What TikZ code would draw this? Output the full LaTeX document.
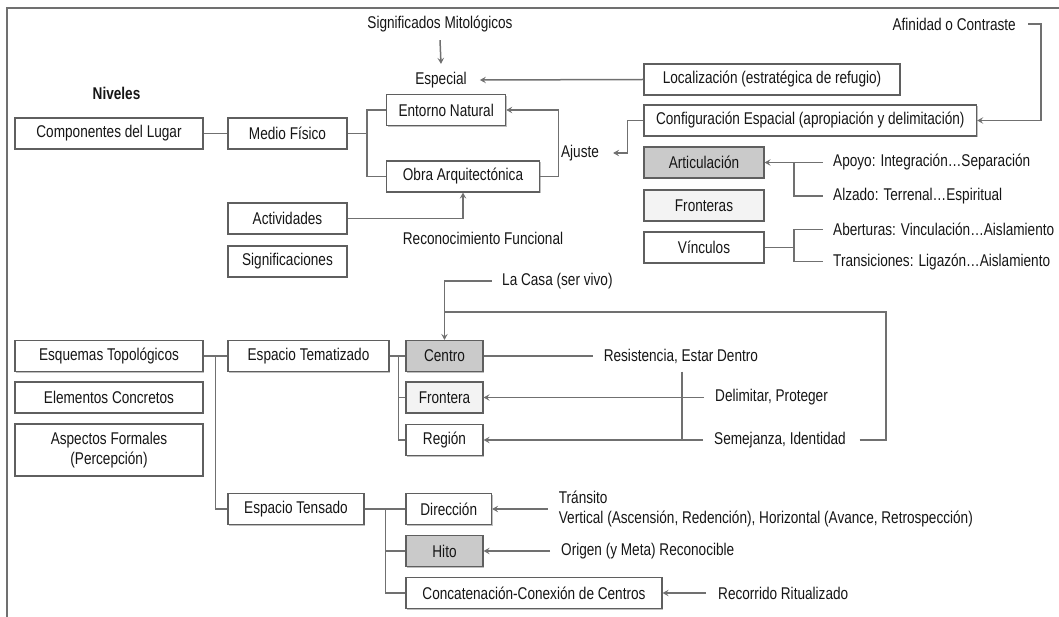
\documentclass[tikz,border=0pt]{standalone}
\usepackage{fontspec}
\setmainfont[FakeStretch=0.8]{Liberation Sans}
\usetikzlibrary{arrows.meta,shadows}
\definecolor{linegray}{RGB}{112,112,112}
\definecolor{boxborder}{RGB}{95,95,95}
\definecolor{boxdark}{RGB}{202,202,202}
\definecolor{boxlight}{RGB}{243,243,243}
\definecolor{txt}{RGB}{22,22,22}
\tikzset{
  box/.style={draw=boxborder, line width=1.2pt, fill=white, minimum height=31pt, inner sep=0pt, align=center, text=txt,
    drop shadow={shadow xshift=1.2pt, shadow yshift=-1.4pt, opacity=0.25, fill=black}},
  darkbox/.style={box, fill=boxdark},
  lightbox/.style={box, fill=boxlight},
  lbl/.style={inner sep=0pt, text=txt},
  conn/.style={draw=linegray, line width=1.5pt},
  arr/.style={conn, -{Stealth[length=6pt, width=6.5pt, inset=2.4pt]}},
}
\begin{document}
\begin{tikzpicture}[x=1pt, y=-1pt, font=\fontsize{17}{20}\selectfont]
\useasboundingbox (0,0) rectangle (1059,617);
\draw[draw=linegray, line width=1.5pt] (7,617) -- (7,8) -- (1059,8);

% upper boxes
\node[box, minimum width=188pt] (comp) at (109,133.5) {Componentes del Lugar};
\node[box, minimum width=119pt] (medio) at (287.5,133.5) {Medio Físico};
\node[box, minimum width=119pt] (entorno) at (446.2,110) {Entorno Natural};
\node[box, minimum width=152.6pt] (obra) at (463,176.5) {Obra Arquitectónica};
\node[box, minimum width=119pt] (activ) at (287.5,218.5) {Actividades};
\node[box, minimum width=119pt] (signif) at (287.5,261.5) {Significaciones};
\node[box, minimum width=256pt] (local) at (772,79.5) {Localización (estratégica de refugio)};
\node[box, minimum width=332.6pt] (config) at (810.3,120.5) {Configuración Espacial (apropiación y delimitación)};
\node[darkbox, minimum width=120pt] (artic) at (704,162.5) {Articulación};
\node[lightbox, minimum width=120pt] (fronteras) at (704,205.5) {Fronteras};
\node[box, minimum width=120pt] (vinculos) at (704,247.5) {Vínculos};

% lower boxes
\node[box, minimum width=188pt] (esquemas) at (109,356) {Esquemas Topológicos};
\node[box, minimum width=188pt] (elementos) at (109,397.5) {Elementos Concretos};
\node[box, minimum width=188pt, minimum height=52pt] (aspectos) at (109,450) {Aspectos Formales\\(Percepción)};
\node[box, minimum width=161pt] (tematizado) at (308.5,356) {Espacio Tematizado};
\node[box, minimum width=136pt] (tensado) at (296,509) {Espacio Tensado};
\node[darkbox, minimum width=77pt] (centro) at (444.5,356) {Centro};
\node[lightbox, minimum width=77pt] (frontera) at (444.5,397.5) {Frontera};
\node[box, minimum width=77pt] (region) at (444.5,440) {Región};
\node[box, minimum width=85.5pt] (direccion) at (448.75,509) {Dirección};
\node[darkbox, minimum width=77pt] (hito) at (444.5,551) {Hito};
\node[box, minimum width=256pt] (concat) at (534,593) {Concatenación-Conexión de Centros};

% labels
\node[lbl] (sigmit) at (440,24) {Significados Mitológicos};
\node[lbl] (especial) at (441,80) {Especial};
\node[lbl, font=\fontsize{17}{20}\selectfont\bfseries] (niveles) at (116.5,93) {Niveles};
\node[lbl] (reconoc) at (483,238) {Reconocimiento Funcional};
\node[lbl, anchor=west] (lacasa) at (502,281) {La Casa (ser vivo)};
\node[lbl, anchor=east] (afinidad) at (1016,24) {Afinidad o Contraste};
\node[lbl] (ajuste) at (580,153) {Ajuste};
\node[lbl, anchor=west] (apoyo) at (833,162.5) {Apoyo: Integración…Separación};
\node[lbl, anchor=west] (alzado) at (833,196) {Alzado: Terrenal…Espiritual};
\node[lbl, anchor=west] (aberturas) at (833,229.3) {Aberturas: Vinculación…Aislamiento};
\node[lbl, anchor=west] (transic) at (833,261.7) {Transiciones: Ligazón…Aislamiento};
\node[lbl, anchor=west] (resist) at (603.6,356) {Resistencia, Estar Dentro};
\node[lbl, anchor=west] (delim) at (715,397.5) {Delimitar, Proteger};
\node[lbl, anchor=west] (semej) at (714,440) {Semejanza, Identidad};
\node[lbl, anchor=west, align=left] (transito) at (558.7,509) {Tránsito\\Vertical (Ascensión, Redención), Horizontal (Avance, Retrospección)};
\node[lbl, anchor=west] (origen) at (561,551) {Origen (y Meta) Reconocible};
\node[lbl, anchor=west] (recorrido) at (718,593) {Recorrido Ritualizado};

% connectors, upper part
\draw[arr] ([yshift=-8pt]sigmit.south) -- ([yshift=8pt]especial.north);
\draw[arr] (local.west) -- ([xshift=13pt]especial.east);
\draw[conn] (comp.east) -- (medio.west);
\draw[conn] (medio.east) -- ++(19.5,0) coordinate (mb);
\draw[conn] (mb) |- (entorno.west);
\draw[conn] (mb) |- (obra.west);
\draw[arr] (obra.east) -- ++(18.4,0) |- (entorno.east);
\draw[arr] (config.west) -- ++(-16,0) |- ([xshift=14pt]ajuste.east);
\draw[arr] ([xshift=12pt]afinidad.east) -- ++(13,0) |- (config.east);
\draw[arr] (activ.east) -| (obra.south);
\draw[arr] ([xshift=-10.4pt]apoyo.west) -- (artic.east);
\draw[conn] ([xshift=-10.4pt]alzado.west) -| ([xshift=29.5pt]artic.east);
\draw[conn] (vinculos.east) -- ++(29.5,0) coordinate (vb);
\draw[conn] (vb) |- ([xshift=-10.4pt]aberturas.west);
\draw[conn] (vb) |- ([xshift=-10.4pt]transic.west);

% connectors, lower part
\draw[arr] ([xshift=-10.5pt]lacasa.west) -| (centro.north);
\draw[conn] ([xshift=13.7pt]semej.east) -- ++(26.3,0) |- ([yshift=28pt]centro.north);
\draw[conn] (esquemas.east) -- (tematizado.west);
\draw[conn] ([xshift=12pt]esquemas.east) |- (tensado.west);
\draw[conn] (tematizado.east) -- (centro.west);
\draw[conn] ([xshift=9pt]tematizado.east) |- (frontera.west);
\draw[conn] ([xshift=9pt]tematizado.east) |- (region.west);
\draw[conn] (centro.east) -- ([xshift=-10.6pt]resist.west);
\draw[arr] ([xshift=-11pt]delim.west) -- (frontera.east);
\draw[arr] ([xshift=-11pt]semej.west) -- (region.east);
\coordinate (rv) at (682,371.7);
\draw[conn] (rv) -- (rv |- region.east);
\draw[conn] (tensado.east) -- (direccion.west);
\draw[conn] ([xshift=21pt]tensado.east) |- (hito.west);
\draw[conn] ([xshift=21pt]tensado.east) |- (concat.west);
\draw[arr] ([xshift=-11pt]transito.west) -- (direccion.east);
\draw[arr] ([xshift=-11pt]origen.west) -- (hito.east);
\draw[arr] ([xshift=-12pt]recorrido.west) -- (concat.east);
\end{tikzpicture}
\end{document}
